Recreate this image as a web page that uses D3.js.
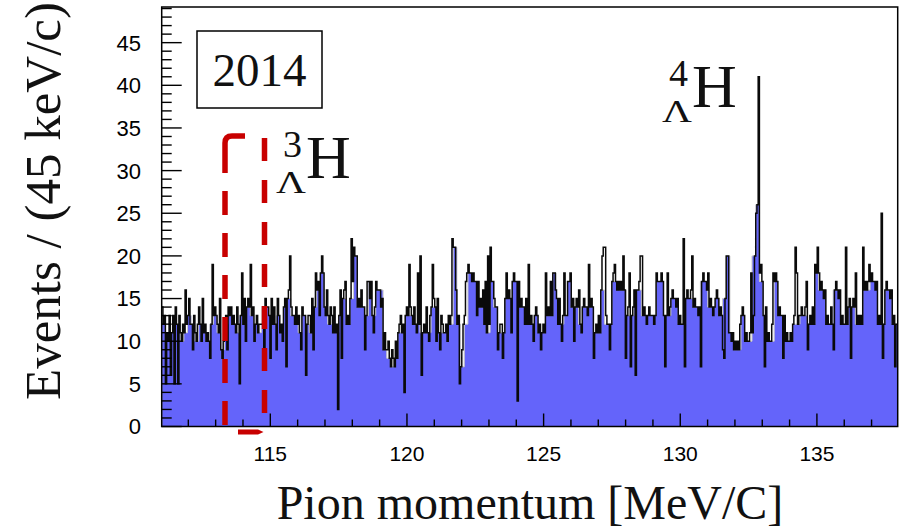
<!DOCTYPE html>
<html>
<head>
<meta charset="utf-8">
<script src="https://cdn.jsdelivr.net/npm/d3@7.9.0/dist/d3.min.js"></script>
<style>
  body { margin: 0; background: #fff; }
  svg { display: block; }
  .tick-label { font-family: "Liberation Sans", Arial, sans-serif; fill: #000; }
  .serif { font-family: "Liberation Serif", "Times New Roman", serif; fill: #111; }
</style>
</head>
<body>
<svg id="chart" width="917" height="528"></svg>
<script>
// binning of the two histograms (MeV/c)
const xStart = 111.026;
const blackBinWidth = 0.045;
const blueBinWidth = 0.135;

// black outline histogram, 45 keV/c bins
const blackCounts = [
  14,12,13, 5,11,10, 13,6,11, 13,5,14, 12,5,13, 11,10,12, 11,16,12, 13,15,12,
  12,9,13, 11,10,12, 14,12,10, 15,11,12, 10,11,10, 8,12,19, 13,14,13, 12,11,15,
  9,8,10, 12,13,9, 14,13,14, 12,13,12, 11,14,12, 5,13,18, 12,15,10, 14,15,14,
  19,13,14, 10,12,13, 11,12,12, 12,14,9, 15,14,14, 13,8,15, 12,14,12, 9,15,13,
  11,12,10, 14,15,7, 15,16,20, 14,13,13, 12,14,12, 13,11,9, 14,13,13, 6,12,13,
  13,11,15, 9,14,18, 16,17,13, 18,20,18, 14,13,16, 13,12,14, 13,11,14, 11,12,2,
  13,16,8, 15,16,17, 12,13,12, 15,22,17, 21,20,20, 14,15,14, 16,14,14, 9,13,17,
  17,15,17, 13,11,14, 17,16,16, 16,14,15, 9,11,9, 9,10,8, 7,9,8, 7,10,8,
  11,12,13, 11,12,4, 13,14,13, 19,14,13, 12,14,12, 11,18,12, 20,6,11, 12,11,14,
  11,10,13, 14,19,15, 14,10,15, 11,9,13, 12,11,11, 12,10,13, 12,13,22, 21,21,16,
  12,13,5, 7,9,12, 13,17,18, 19,18,18, 17,18,17, 17,13,17, 14,15,14, 16,12,17,
  11,20,12, 21,17,17, 15,14,14, 9,11,12, 12,8,11, 15,18,15, 16,15,11, 17,18,17,
  17,3,17, 14,15,14, 14,12,15, 12,19,12, 13,12,10, 13,14,13, 11,12,9, 11,12,11,
  18,13,14, 13,17,13, 18,18,16, 15,12,15, 12,10,13, 18,13,13, 17,17,18, 14,15,10,
  14,15,14, 16,12,11, 14,15,14, 14,13,19, 14,15,14, 8,11,12, 11,13,11, 16,20,21,
  21,13,12, 12,9,12, 17,18,19, 17,16,17, 16,17,16, 20,16,8, 13,14,18, 7,13,14,
  16,6,16, 16,17,20, 20,13,14, 13,12,13, 14,13,13, 13,12,13, 18,17,17, 17,18,17,
  13,7,13, 18,13,14, 15,16,15, 15,14,15, 12,13,12, 12,22,7, 15,16,15, 15,16,20,
  14,15,14, 14,13,14, 7,17,18, 17,17,16, 18,14,15, 14,13,14, 15,16,15, 13,14,13,
  9,8,15, 20,20,11, 11,10,11, 9,10,9, 10,9,12, 13,14,13, 10,11,10, 10,11,18,
  11,13,20, 25,26,41, 18,19,17, 13,7,14, 10,11,10, 10,12,18, 17,18,17, 13,14,13,
  13,8,13, 10,11,10, 10,11,10, 12,13,21, 18,12,13, 13,14,13, 13,14,17, 9,12,13,
  12,14,12, 19,18,21, 18,16,17, 16,15,16, 12,13,12, 12,14,12, 9,16,17, 16,15,16,
  12,13,12, 12,21,12, 14,15,8, 14,15,14, 18,12,13, 12,13,12, 21,16,17, 16,17,19,
  17,18,17, 17,16,17, 12,13,12, 25,8,12, 16,17,16, 16,15,16, 12,13,7, 12
];

// blue filled histogram, 135 keV/c bins
const blueCounts = [
  12,10,11,13,12,10, 11,13,12,10,12,11, 10,12,13,11,9,12, 13,12,11,13,12,14,
  13,12,11,12,14,13, 12,13,11,14,15,13, 12,11,13,12,11,14, 16,18,14,12,13,11,
  13,15,12,15,20,14, 14,13,17,13,16,16, 9,8,7,8,11,11, 13,13,12,12,11,11,
  11,14,14,11,11,12, 12,21,12,7,12,18, 17,17,14,16,11,17, 14,11,11,15,15,17,
  17,14,14,12,12,13, 11,11,13,13,18,15, 12,13,17,14,14,12, 14,14,14,11,11,16,
  12,12,17,17,16,16, 13,13,16,16,13,13, 13,13,17,17,13,13, 15,15,12,12,15,15,
  14,14,17,17,14,14, 15,13,15,20,11,9, 9,13,10,10,20,26, 17,13,10,10,17,13,
  13,10,10,12,12,13, 13,12,12,19,16,16, 12,12,16,16,12,12, 14,14,12,12,16,16,
  17,17,12,12,16,16, 12,12
];

const xTicks = [115, 120, 125, 130, 135];
const yTicks = [0, 5, 10, 15, 20, 25, 30, 35, 40, 45];
const yearLabel = "2014";
const xTitle = "Pion momentum [MeV/C]";
const yTitle = "Events / (45 keV/c)";

const svg = d3.select("#chart");

const x = d3.scaleLinear().domain([111.026, 137.956]).range([161.7, 897.7]);
const y = d3.scaleLinear().domain([0, 49.18]).range([426.5, 7]);

svg.append("clipPath").attr("id", "plot-clip")
  .append("rect")
  .attr("x", x.range()[0]).attr("y", y.range()[1])
  .attr("width", x.range()[1] - x.range()[0])
  .attr("height", y.range()[0] - y.range()[1]);

// turn counts into step points (left edges + closing edge)
function toSteps(counts, width) {
  const pts = counts.map((c, i) => ({ e: xStart + i * width, c: c }));
  pts.push({ e: xStart + counts.length * width, c: counts[counts.length - 1] });
  return pts;
}

const plot = svg.append("g").attr("clip-path", "url(#plot-clip)");

// blue filled histogram
const area = d3.area()
  .curve(d3.curveStepAfter)
  .x((d) => x(d.e))
  .y0(y(0))
  .y1((d) => y(d.c));

plot.append("path")
  .datum(toSteps(blueCounts, blueBinWidth))
  .attr("d", area)
  .attr("fill", "#6464fa")
  .attr("stroke", "#c8c8c8")
  .attr("stroke-width", 1);

// black outline histogram
const line = d3.line()
  .curve(d3.curveStepAfter)
  .x((d) => x(d.e))
  .y((d) => y(d.c));

plot.append("path")
  .datum(toSteps(blackCounts, blackBinWidth))
  .attr("d", line)
  .attr("fill", "none")
  .attr("stroke", "#0a0a0a")
  .attr("stroke-width", 1.5);

// y ticks (inside, on the left axis)
const yMinor = d3.range(0, 50, 1);
svg.append("g").selectAll("line")
  .data(yMinor)
  .join("line")
  .attr("x1", x.range()[0])
  .attr("x2", (d) => x.range()[0] + (d % 5 === 0 ? 20 : 10))
  .attr("y1", (d) => y(d))
  .attr("y2", (d) => y(d))
  .attr("stroke", "#000")
  .attr("stroke-width", 1.4);

svg.append("g").selectAll("text")
  .data(yTicks)
  .join("text")
  .attr("class", "tick-label")
  .attr("x", 141)
  .attr("y", (d) => y(d))
  .attr("dy", "0.36em")
  .attr("text-anchor", "end")
  .attr("font-size", 22)
  .text((d) => d);

// x ticks (inside, on the bottom axis)
const xMinor = d3.range(112, 138, 1);
svg.append("g").selectAll("line")
  .data(xMinor)
  .join("line")
  .attr("x1", (d) => x(d))
  .attr("x2", (d) => x(d))
  .attr("y1", y(0))
  .attr("y2", (d) => y(0) - (d % 5 === 0 ? 13 : 7))
  .attr("stroke", "#000")
  .attr("stroke-width", 1.4);

svg.append("g").selectAll("text")
  .data(xTicks)
  .join("text")
  .attr("class", "tick-label")
  .attr("x", (d) => x(d))
  .attr("y", 461)
  .attr("text-anchor", "middle")
  .attr("font-size", 21)
  .text((d) => d);

// frame
svg.append("rect")
  .attr("x", x.range()[0]).attr("y", y.range()[1])
  .attr("width", x.range()[1] - x.range()[0])
  .attr("height", y.range()[0] - y.range()[1])
  .attr("fill", "none")
  .attr("stroke", "#000")
  .attr("stroke-width", 1.5);

// axis titles
svg.append("text")
  .attr("class", "serif")
  .attr("x", 530)
  .attr("y", 519)
  .attr("text-anchor", "middle")
  .attr("font-size", 48)
  .text(xTitle);

svg.append("text")
  .attr("class", "serif")
  .attr("transform", "translate(60,400) rotate(-90)")
  .attr("font-size", 51)
  .text(yTitle);

// year box
svg.append("rect")
  .attr("x", 197).attr("y", 31)
  .attr("width", 125).attr("height", 77)
  .attr("fill", "#fff")
  .attr("stroke", "#000")
  .attr("stroke-width", 1.5);

svg.append("text")
  .attr("class", "serif")
  .attr("x", 259.5)
  .attr("y", 86)
  .attr("text-anchor", "middle")
  .attr("font-size", 47)
  .text(yearLabel);

// red dashed window around the 3H region
const red = "#c80000";
svg.append("path")
  .attr("d", "M225,425 L225,188")
  .attr("stroke", red).attr("stroke-width", 5.5).attr("fill", "none")
  .attr("stroke-dasharray", "24 18");
svg.append("path")
  .attr("d", "M225,173 L225,143 Q225,136 232,136 L245,136")
  .attr("stroke", red).attr("stroke-width", 5.5).attr("fill", "none");
svg.append("path")
  .attr("d", "M264.5,413 L264.5,135")
  .attr("stroke", red).attr("stroke-width", 5.5).attr("fill", "none")
  .attr("stroke-dasharray", "23 19");
svg.append("path")
  .attr("d", "M238,429.5 L258,429.5 L263.5,432 L258,434.5 L238,434.5 Z")
  .attr("fill", red);

// hypernuclei labels
function hyperLabel(mass, hx, hy) {
  const g = svg.append("g").attr("class", "serif");
  g.append("text").attr("x", hx - 23).attr("y", hy - 21)
    .attr("font-size", 38).text(mass);
  g.append("text").attr("x", hx).attr("y", hy)
    .attr("font-size", 62).text("H");
  g.append("text").attr("x", hx - 30).attr("y", hy + 15)
    .attr("font-size", 32)
    .attr("textLength", 30).attr("lengthAdjust", "spacingAndGlyphs")
    .text("\u039B");
}
hyperLabel("3", 306, 178);
hyperLabel("4", 692, 107);
</script>
</body>
</html>
